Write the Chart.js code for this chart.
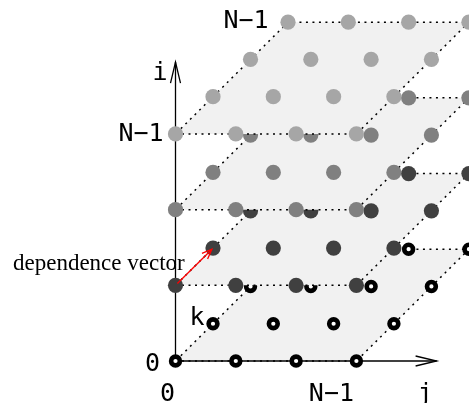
<!DOCTYPE html>
<html><head><meta charset="utf-8">
<script src="https://cdn.jsdelivr.net/npm/chart.js@4"></script>
<style>html,body{margin:0;padding:0;background:#fff;} canvas{display:block;}</style>
</head><body>
<canvas id="c" width="469" height="403"></canvas>
<script>
// ---------- data ----------
const LAYERS_I = [0, 1, 2, 3];            // i = 0 .. N-1
const INDEX_J  = [0, 1, 2, 3];            // j = 0 .. N-1
const INDEX_K  = [0, 1, 2, 3];            // k = 0 .. N-1
const LAYER_COLORS = ['#000000', '#404040', '#808080', '#a6a6a6'];
const DEP_FROM = [1, 0, 0];               // dependence vector (i, j, k)
const DEP_TO   = [1, 0, 1];
const AXIS_I_END = 3.95;                  // axis lengths in lattice units
const AXIS_J_END = 4.33;
const TICK_LABELS = ['0', 'N\u22121'];
const AXIS_NAMES = ['i', 'j', 'k'];
const ANNOTATION = 'dependence vector';

// ---------- oblique projection (style) ----------
const KX = 0.622, KY = 0.618, IY = 1.255;
function P(i, j, k) { return { x: j + k * KX, y: i * IY + k * KY }; }
function arrowHead(tail, tip, len, half) {
  const dx = tip.x - tail.x, dy = tip.y - tail.y, L = Math.hypot(dx, dy);
  const ux = dx / L, uy = dy / L, px = -uy, py = ux;
  return [
    { x: tip.x - ux * len + px * half, y: tip.y - uy * len + py * half },
    { x: tip.x, y: tip.y },
    { x: tip.x - ux * len - px * half, y: tip.y - uy * len - py * half }
  ];
}

const nJ = INDEX_J[INDEX_J.length - 1], nK = INDEX_K[INDEX_K.length - 1];
const datasets = [];
let seq = 0;
function add(ds) { ds.order = 1000 - (seq++); datasets.push(ds); }

const origin = P(0, 0, 0);
const iEnd = { x: 0, y: AXIS_I_END * IY };
const jEnd = { x: AXIS_J_END, y: 0 };
const UNIT_PX = 60.3;

LAYERS_I.forEach((i, li) => {
  // plane
  add({
    data: [P(i, 0, 0), P(i, nJ, 0), P(i, nJ, nK), P(i, 0, nK), P(i, 0, 0)],
    fill: 'shape', backgroundColor: '#f1f1f1', borderWidth: 0, pointRadius: 0, showLine: true
  });
  // dotted outline
  add({
    data: [P(i, 0, 0), P(i, nJ, 0), P(i, nJ, nK), P(i, 0, nK), P(i, 0, 0)],
    fill: false, borderColor: '#000', borderWidth: 1.5, borderDash: [2, 4.5],
    pointRadius: 0, showLine: true
  });
  if (li === 0) {
    // axes (solid)
    add({ data: [origin, iEnd], borderColor: '#000', borderWidth: 1.3, pointRadius: 0, fill: false });
    add({ data: arrowHead(origin, iEnd, 21 / UNIT_PX, 5 / UNIT_PX), borderColor: '#000', borderWidth: 1.3, pointRadius: 0, fill: false });
    add({ data: [origin, jEnd], borderColor: '#000', borderWidth: 1.3, pointRadius: 0, fill: false });
    add({ data: arrowHead(origin, jEnd, 21 / UNIT_PX, 5 / UNIT_PX), borderColor: '#000', borderWidth: 1.3, pointRadius: 0, fill: false });
  }
  // lattice points
  const pts = [];
  INDEX_K.forEach(k => INDEX_J.forEach(j => pts.push(P(i, j, k))));
  if (i === 0) {
    add({ data: pts, showLine: false, pointStyle: 'circle', pointRadius: 4.4,
      pointBorderWidth: 4.6, pointBackgroundColor: '#ffffff', pointBorderColor: '#000000' });
  } else {
    add({ data: pts, showLine: false, pointStyle: 'circle', pointRadius: 7.6,
      pointBorderWidth: 0, pointBackgroundColor: LAYER_COLORS[li], pointBorderColor: LAYER_COLORS[li] });
  }
  if (i === DEP_FROM[0]) {
    const a = P(DEP_FROM[0], DEP_FROM[1], DEP_FROM[2] + 0.05);
    const b = P(DEP_TO[0], DEP_TO[1], DEP_TO[2] - 0.03);
    add({ data: [a, b], borderColor: '#ff0000', borderWidth: 1.3, pointRadius: 0, fill: false });
    add({ data: arrowHead(a, b, 10 / UNIT_PX, 4 / UNIT_PX), borderColor: '#ff0000', borderWidth: 1.3, pointRadius: 0, fill: false });
  }
});

const MONO = '25px "DejaVu Sans Mono"';
const SERIF = '23px "Liberation Serif"';
const LABELS = [
  { text: TICK_LABELS[1], at: P(3, 0, 3), dx: -42, dy: 6, font: MONO, align: 'center' },
  { text: AXIS_NAMES[0], at: iEnd, dx: -15.5, dy: 18, font: MONO, align: 'center' },
  { text: TICK_LABELS[1], at: P(3, 0, 0), dx: -34.5, dy: 7, font: MONO, align: 'center' },
  { text: TICK_LABELS[0], at: origin, dx: -23, dy: 10, font: MONO, align: 'center' },
  { text: TICK_LABELS[0], at: origin, dx: -8, dy: 40, font: MONO, align: 'center' },
  { text: TICK_LABELS[1], at: P(0, 3, 0), dx: -25, dy: 40, font: MONO, align: 'center' },
  { text: AXIS_NAMES[1], at: jEnd, dx: -11.5, dy: 40, font: MONO, align: 'center' },
  { text: AXIS_NAMES[2], at: P(0, 0, 1), dx: -16, dy: 1, font: MONO, align: 'center' },
  { text: ANNOTATION, at: P(1, 0, 0), dx: -162.5, dy: -15.5, font: SERIF, align: 'left' }
];

const labelPlugin = {
  id: 'labels',
  afterDatasetsDraw(chart) {
    const ctx = chart.ctx, sx = chart.scales.x, sy = chart.scales.y;
    ctx.save();
    ctx.fillStyle = '#000';
    ctx.textBaseline = 'alphabetic';
    LABELS.forEach(l => {
      ctx.font = l.font;
      ctx.textAlign = l.align;
      ctx.fillText(l.text, sx.getPixelForValue(l.at.x) + l.dx, sy.getPixelForValue(l.at.y) + l.dy);
    });
    ctx.restore();
  }
};

new Chart(document.getElementById('c'), {
  type: 'line',
  data: { datasets },
  options: {
    responsive: false, animation: false, events: [],
    layout: { padding: 0, autoPadding: false },
    elements: { line: { tension: 0 } },
    scales: {
      x: { type: 'linear', display: false, min: -2.9104, max: 4.8673 },
      y: { type: 'linear', display: false, min: -0.6965, max: 5.9867 }
    },
    plugins: { legend: { display: false }, tooltip: { enabled: false } }
  },
  plugins: [labelPlugin]
});
</script>
</body></html>
